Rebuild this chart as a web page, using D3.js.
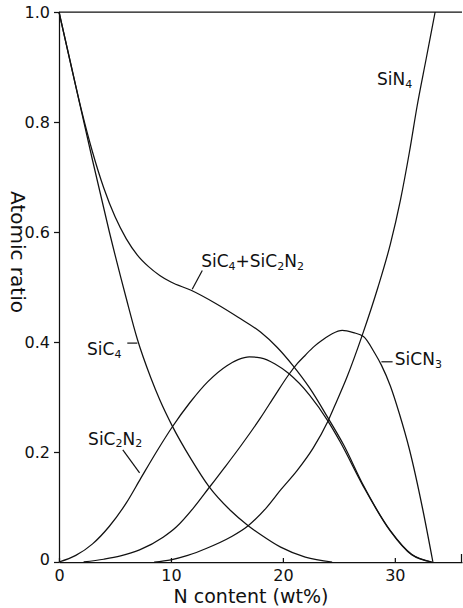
<!DOCTYPE html>
<html>
<head>
<meta charset="utf-8">
<script src="https://cdn.jsdelivr.net/npm/d3@7"></script>
<style>
  body { margin: 0; background: #fff; }
  text { font-family: "DejaVu Sans", sans-serif; fill: #111; }
  .curve { fill: none; stroke: #111; stroke-width: 1.25; }
</style>
</head>
<body>
<div id="chart"></div>
<script>
'use strict';

// values: [N content wt%, atomic ratio]
var sic4 = [[0,1],[1.5,0.865],[3,0.73],[4.5,0.6],[6,0.48],[7,0.405],[8.2,0.335],[9,0.295],[10.1,0.248],
  [11.8,0.187],[13.4,0.137],[15.3,0.094],[16.9,0.066],[18,0.05],[19.8,0.027],[22,0.009],[24.4,0]];

var sic4PlusSic2n2 = [[0,1],[1,0.91],[2,0.822],[3,0.745],[4,0.68],[5,0.628],[6,0.588],[7,0.558],[8,0.537],
  [9,0.521],[10,0.509],[11.8,0.494],[14,0.47],[16,0.445],[18,0.418],[19.5,0.39],[20.9,0.357],[22.4,0.316],
  [24,0.263],[25.4,0.214],[27.2,0.139],[29.6,0.057],[31.5,0.014],[33.3,0]];

var sic2n2 = [[0,0],[1.5,0.012],[3,0.033],[4.5,0.065],[6,0.107],[7.3,0.152],[8.7,0.2],[10.1,0.245],
  [11.7,0.29],[13.3,0.328],[15,0.357],[16,0.368],[17,0.373],[18,0.371],[19.3,0.36],[20.5,0.343],
  [22.4,0.303],[24,0.257],[25.1,0.219],[27.2,0.137],[29.6,0.056],[31.5,0.013],[33.3,0]];

var sicn3 = [[2.2,0],[4,0.005],[5.5,0.011],[7.2,0.022],[9.3,0.045],[10.5,0.064],[12,0.098],[13.4,0.135],
  [14.8,0.172],[16.2,0.21],[18,0.262],[19.3,0.303],[20.5,0.34],[21.3,0.361],[22,0.376],[22.8,0.392],
  [23.5,0.403],[24.4,0.415],[25.3,0.421],[26.3,0.417],[27.2,0.41],[28.2,0.38],[28.8,0.358],[29.6,0.32],
  [30.4,0.27],[31.3,0.205],[32.5,0.095],[33.4,0]];

var sin4 = [[8.5,0],[10,0.004],[11.5,0.012],[13.2,0.025],[15.3,0.045],[16.9,0.066],[18.5,0.098],
  [19.8,0.131],[21.3,0.167],[22.7,0.207],[24,0.255],[24.8,0.292],[25.7,0.335],[27.1,0.413],[28.5,0.5],
  [29.6,0.578],[30.5,0.658],[31.3,0.745],[32,0.83],[32.8,0.915],[33.6,1]];

var xTicks = [0, 10, 20, 30];
var yTicks = [0, 0.2, 0.4, 0.6, 0.8, 1.0];

var width = 463, height = 608;

var x = d3.scaleLinear().domain([0, 36]).range([59, 462]);
var y = d3.scaleLinear().domain([0, 1]).range([562, 12]);

var svg = d3.select('#chart').append('svg')
    .attr('width', width)
    .attr('height', height);

var line = d3.line()
    .x(function(d) { return x(d[0]); })
    .y(function(d) { return y(d[1]); })
    .curve(d3.curveMonotoneX);

// axes
var xAxis = svg.append('g')
    .attr('transform', 'translate(0,' + y(0) + ')')
    .call(d3.axisBottom(x).tickValues(xTicks).tickSizeInner(-4).tickSizeOuter(0).tickPadding(11));

var yAxis = svg.append('g')
    .attr('transform', 'translate(' + x(0) + ',0)')
    .call(d3.axisLeft(y).tickValues(yTicks).tickSizeInner(5).tickSizeOuter(0).tickPadding(4)
      .tickFormat(function(d) { return d === 0 ? '0' : d3.format('.1f')(d); }));

svg.selectAll('.domain, .tick line').attr('stroke', '#111').attr('stroke-width', 1.25);
svg.selectAll('.tick text').style('font-size', '16px').attr('fill', '#111');
yAxis.selectAll('.tick').filter(function(d) { return d === 0; }).select('text').attr('dy', '0.15em').attr('x', -9);
xAxis.selectAll('.tick text').attr('dy', '0.5em');

// top frame and right stub
svg.append('line')
    .attr('x1', x(0)).attr('x2', x(36))
    .attr('y1', y(1)).attr('y2', y(1))
    .attr('stroke', '#111').attr('stroke-width', 1.25);
svg.append('line')
    .attr('x1', x(36) - 0.5).attr('x2', x(36) - 0.5)
    .attr('y1', y(0)).attr('y2', y(0) - 8)
    .attr('stroke', '#111').attr('stroke-width', 1.25);

// curves
[sic4, sic4PlusSic2n2, sic2n2, sicn3, sin4].forEach(function(s) {
  svg.append('path').attr('class', 'curve').attr('d', line(s));
});

// axis titles
svg.append('text')
    .attr('x', 251).attr('y', 603)
    .attr('text-anchor', 'middle')
    .style('font-size', '19px')
    .text('N content (wt%)');

svg.append('text')
    .attr('transform', 'translate(11,252) rotate(90)')
    .attr('text-anchor', 'middle')
    .style('font-size', '20px')
    .text('Atomic ratio');

// curve labels with subscripts
function label(parts, px, py) {
  var t = svg.append('text').attr('x', px).attr('y', py).style('font-size', '17px');
  var low = false;
  parts.forEach(function(p) {
    var s = t.append('tspan').text(p[0]);
    if (p[1]) {
      s.attr('dy', 2.5).style('font-size', '11px');
      low = true;
    } else if (low) {
      s.attr('dy', -2.5);
      low = false;
    }
  });
  return t;
}

function tick(x1, y1, x2, y2) {
  svg.append('line')
      .attr('x1', x1).attr('y1', y1).attr('x2', x2).attr('y2', y2)
      .attr('stroke', '#111').attr('stroke-width', 1.2);
}

label([['SiN', 0], ['4', 1]], x(28.4), y(0.867));

label([['SiC', 0], ['4', 1], ['+SiC', 0], ['2', 1], ['N', 0], ['2', 1]], x(12.7), y(0.536));
tick(x(12.8), y(0.53), x(11.9), y(0.496));

label([['SiC', 0], ['4', 1]], x(2.5), y(0.376));
tick(x(6.1), y(0.398), x(7.0), y(0.398));

label([['SiC', 0], ['2', 1], ['N', 0], ['2', 1]], x(2.6), y(0.213));
tick(x(5.7), y(0.204), x(7.2), y(0.162));

tick(x(28.8), y(0.364), x(29.8), y(0.364));
label([['SiCN', 0], ['3', 1]], x(30.0), y(0.358));
</script>
</body>
</html>
